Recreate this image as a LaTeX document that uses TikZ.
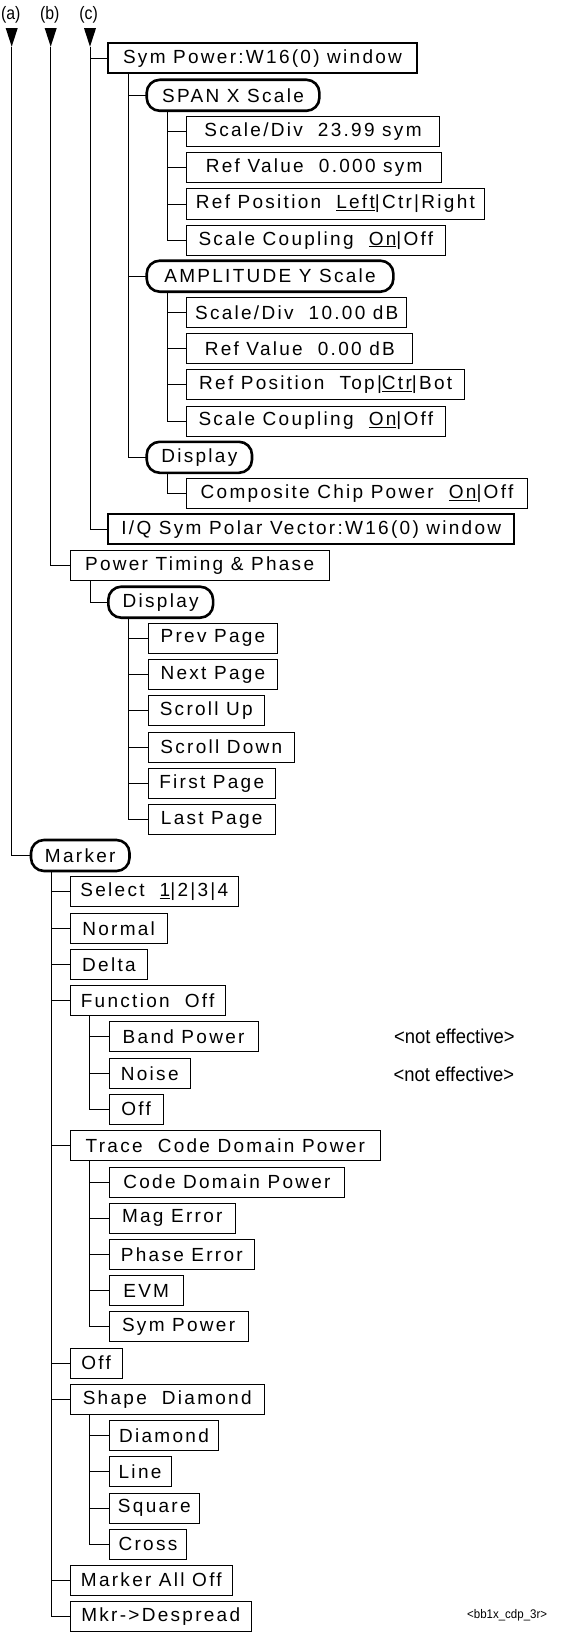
\documentclass[tikz,border=0pt]{standalone}
\usepackage{fontspec}
\setmainfont{Liberation Sans}[LetterSpace=12]
\newfontfamily\narrowfont{Liberation Sans}[FakeStretch=0.92]
\newfontfamily\lblfont{Liberation Sans}[FakeStretch=0.88]
\newcommand{\myul}[1]{\underline{#1}}
\tikzset{
  menubox/.style={draw, line width=1pt, minimum height=30pt, inner xsep=0.5pt, inner ysep=1pt,
    outer sep=0pt, anchor=west, font=\fontsize{19}{21}\selectfont},
  boldbox/.style={menubox, line width=2pt},
  keybox/.style={menubox, line width=2.6pt, rounded corners=13pt, minimum height=31pt},
  conn/.style={line width=0.9pt},
  lbl/.style={inner sep=0pt, font=\lblfont\fontsize{18}{20}\selectfont},
  note/.style={inner sep=0pt, anchor=west, font=\narrowfont\fontsize{20}{22}\selectfont},
  tag/.style={inner sep=0pt, anchor=west, font=\narrowfont\fontsize{12.5}{14}\selectfont},
}
\begin{document}
\begin{tikzpicture}[x=1pt,y=-1pt]
\useasboundingbox (0,0) rectangle (565,1632);

% column labels and arrow heads
\node[lbl] (la) at (10.7,15) {(a)};
\node[lbl] (lb) at (49.7,15) {(b)};
\node[lbl] (lc) at (88.6,15) {(c)};
\coordinate (ta) at (11.7,46.7);
\coordinate (tb) at (50.7,46.7);
\coordinate (tc) at (90,46.7);
\foreach \t in {ta,tb,tc}{\fill (\t) -- ++(-6,-18.5) -- ++(12,0) -- cycle;}

% (c) branch
\node[boldbox, minimum width=308.4] (symp) at (108.3,58.5) {Sym Power:W16(0) window};
\node[keybox, minimum width=172.7] (span) at (146.7,95.3) {SPAN X Scale};
\node[menubox, minimum width=252.6] (sd1) at (186.7,131.3) {Scale/Div\ \ 23.99 sym};
\node[menubox, minimum width=255] (rv1) at (186.7,167.7) {Ref Value\ \ 0.000 sym};
\node[menubox, minimum width=297.5] (rp1) at (186.7,204) {Ref Position\ \ \myul{Left}|Ctr|Right};
\node[menubox, minimum width=258.3] (sc1) at (186.7,240.2) {Scale Coupling\ \ \myul{On}|Off};
\node[keybox, minimum width=246.7] (amp) at (146.7,276.2) {AMPLITUDE Y Scale};
\node[menubox, minimum width=220.1] (sd2) at (186.7,312.3) {Scale/Div\ \ 10.00 dB};
\node[menubox, minimum width=226.2] (rv2) at (186.7,348.5) {Ref Value\ \ 0.00 dB};
\node[menubox, minimum width=278] (rp2) at (186.7,384.5) {Ref Position\ \ Top|\myul{Ctr}|Bot};
\node[menubox, minimum width=258.3] (sc2) at (186.7,421) {Scale Coupling\ \ \myul{On}|Off};
\node[keybox, minimum width=105.3] (disp1) at (146.7,457.3) {Display};
\node[menubox, minimum width=340.6] (ccp) at (186.7,493.7) {Composite Chip Power\ \ \myul{On}|Off};
\node[boldbox, minimum width=406] (iq) at (108.3,529.3) {I/Q Sym Polar Vector:W16(0) window};

% (b) branch
\node[menubox, minimum width=258.8] (ptp) at (70.2,565.8) {Power Timing \& Phase};
\node[keybox, minimum width=104.8] (disp2) at (108.3,602.2) {Display};
\node[menubox, minimum width=129.3] (prev) at (148.3,638.3) {Prev Page};
\node[menubox, minimum width=129.3] (next) at (148.3,674.5) {Next Page};
\node[menubox, minimum width=116] (sup) at (148.3,710.7) {Scroll Up};
\node[menubox, minimum width=146.2] (sdown) at (148.3,747) {Scroll Down};
\node[menubox, minimum width=126.8] (first) at (148.3,783.3) {First Page};
\node[menubox, minimum width=126.8] (last) at (148.3,819.5) {Last Page};

% (a) branch
\node[keybox, minimum width=98.5] (marker) at (31,855.5) {Marker};
\node[menubox, minimum width=168.2] (sel) at (70.2,891.7) {Select\ \ \myul{1}|2|3|4};
\node[menubox, minimum width=96.9] (normal) at (70.2,928.3) {Normal};
\node[menubox, minimum width=77.4] (delta) at (70.2,964.3) {Delta};
\node[menubox, minimum width=154.8] (func) at (70.2,1000.5) {Function\ \ Off};
\node[menubox, minimum width=149] (band) at (109.1,1036.8) {Band Power};
\node[menubox, minimum width=81.3] (noise) at (109.1,1073.2) {Noise};
\node[menubox, minimum width=54] (off1) at (109.1,1109.2) {Off};
\node[menubox, minimum width=310.3] (trace) at (70.2,1145.7) {Trace\ \ Code Domain Power};
\node[menubox, minimum width=235.7] (cdp) at (109.1,1182) {Code Domain Power};
\node[menubox, minimum width=126.3] (mag) at (109.1,1218) {Mag Error};
\node[menubox, minimum width=145.5] (phase) at (109.1,1254.2) {Phase Error};
\node[menubox, minimum width=74.2] (evm) at (109.1,1290.5) {EVM};
\node[menubox, minimum width=139] (symp2) at (109.1,1326.5) {Sym Power};
\node[menubox, minimum width=51.8] (off2) at (70.2,1363) {Off};
\node[menubox, minimum width=194.1] (shape) at (70.2,1399.3) {Shape\ \ Diamond};
\node[menubox, minimum width=109.8] (diam) at (109.1,1435.3) {Diamond};
\node[menubox, minimum width=61.9] (line) at (109.1,1471.7) {Line};
\node[menubox, minimum width=90.4] (square) at (109.1,1508) {Square};
\node[menubox, minimum width=77.7] (cross) at (109.1,1544.2) {Cross};
\node[menubox, minimum width=162.3] (mao) at (70.2,1580) {Marker All Off};
\node[menubox, minimum width=181.1] (mkr) at (70.2,1616.3) {Mkr->Despread};

\node[note] (ne1) at (394,1036.7) {<not effective>};
\node[note] (ne2) at (393.5,1074.3) {<not effective>};
\node[tag] (fig) at (467,1615.3) {<bb1x\_cdp\_3r>};

% connectors
\draw[conn] (tc) |- (iq.west);
\draw[conn] (tc) |- (symp.west);
\draw[conn] (tb) |- (ptp.west);
\draw[conn] (ta) |- (marker.west);

\foreach \c in {span,amp,disp1}{\draw[conn] ([xshift=20pt]symp.south west) |- (\c.west);}
\foreach \c in {sd1,rv1,rp1,sc1}{\draw[conn] ([xshift=20.3pt]span.south west) |- (\c.west);}
\foreach \c in {sd2,rv2,rp2,sc2}{\draw[conn] ([xshift=20.3pt]amp.south west) |- (\c.west);}
\draw[conn] ([xshift=20.3pt]disp1.south west) |- (ccp.west);

\draw[conn] ([xshift=19.8pt]ptp.south west) |- (disp2.west);
\foreach \c in {prev,next,sup,sdown,first,last}{\draw[conn] ([xshift=20.2pt]disp2.south west) |- (\c.west);}

\foreach \c in {sel,normal,delta,func,trace,off2,shape,mao,mkr}{\draw[conn] ([xshift=20.5pt]marker.south west) |- (\c.west);}
\foreach \c in {band,noise,off1}{\draw[conn] ([xshift=19.4pt]func.south west) |- (\c.west);}
\foreach \c in {cdp,mag,phase,evm,symp2}{\draw[conn] ([xshift=19.4pt]trace.south west) |- (\c.west);}
\foreach \c in {diam,line,square,cross}{\draw[conn] ([xshift=19.4pt]shape.south west) |- (\c.west);}
\end{tikzpicture}
\end{document}
